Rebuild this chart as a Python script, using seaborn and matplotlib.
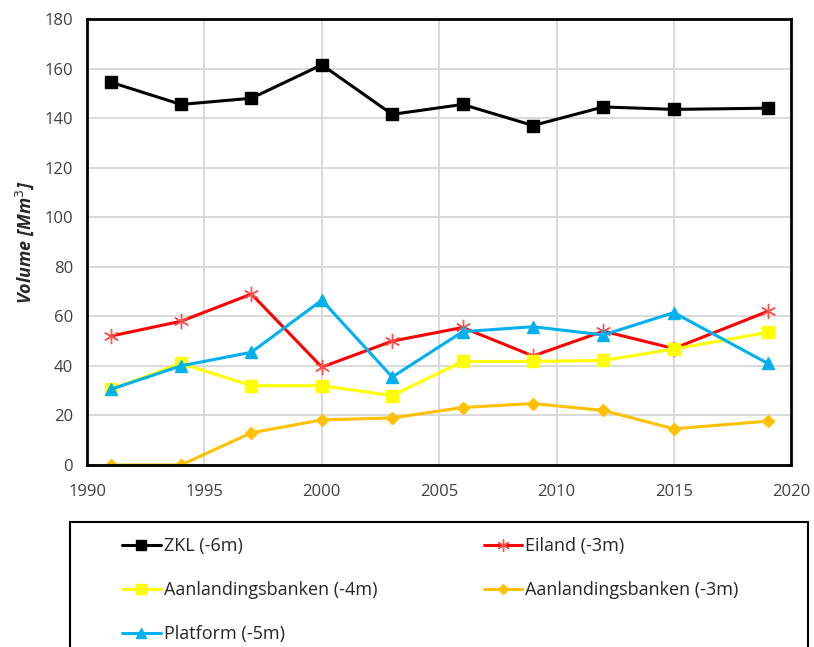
import pandas as pd
import matplotlib.pyplot as plt
import seaborn as sns
from matplotlib.patches import Rectangle

# jaren en volumes (Mm3)
years = [1991, 1994, 1997, 2000, 2003, 2006, 2009, 2012, 2015, 2019]
zkl = [154.5, 145.5, 148.0, 161.5, 141.5, 145.5, 137.0, 144.5, 143.5, 144.0]
eiland = [52.0, 58.0, 69.0, 39.5, 50.0, 55.5, 44.0, 54.0, 47.0, 62.0]
aanl_4 = [30.5, 41.0, 32.0, 32.0, 28.0, 41.8, 41.8, 42.2, 46.8, 53.5]
aanl_3 = [0.0, 0.0, 13.0, 18.2, 19.0, 23.2, 24.8, 22.0, 14.6, 17.7]
platform = [30.5, 40.0, 45.5, 66.5, 35.5, 53.8, 55.8, 52.5, 61.5, 41.0]

series_names = ['ZKL (-6m)', 'Eiland (-3m)', 'Aanlandingsbanken (-4m)',
                'Aanlandingsbanken (-3m)', 'Platform (-5m)']
series_vals = [zkl, eiland, aanl_4, aanl_3, platform]

df = pd.DataFrame({'jaar': years * len(series_names),
                   'volume': [v for vals in series_vals for v in vals],
                   'reeks': [n for n in series_names for _ in years]})

sns.set_style('whitegrid')
plt.rcParams['font.family'] = ['Open Sans', 'DejaVu Sans']

stijl = {
    'ZKL (-6m)': dict(color='black', marker='s', markersize=9, mec='black'),
    'Eiland (-3m)': dict(color='#ff0000', marker=(6, 2, 0), markersize=11, mec='#ff5050', mew=1.0),
    'Aanlandingsbanken (-4m)': dict(color='#ffff00', marker='s', markersize=9, mec='#ffff00'),
    'Aanlandingsbanken (-3m)': dict(color='#ffc000', marker='D', markersize=6, mec='#ffc000'),
    'Platform (-5m)': dict(color='#00b0f0', marker='^', markersize=9, mec='#00b0f0'),
}

fig = plt.figure(figsize=(8.14, 6.47), dpi=100)
ax = fig.add_axes([0.107, 0.2813, 0.865, 0.6894])

handles = {}
for naam in series_names:
    s = stijl[naam]
    sub = df[df['reeks'] == naam]
    sns.lineplot(data=sub, x='jaar', y='volume', ax=ax, color=s['color'],
                 marker=s['marker'], markersize=s['markersize'],
                 markeredgecolor=s['mec'], markeredgewidth=s.get('mew', 1),
                 linewidth=2.2, label=naam)
    handles[naam] = ax.get_lines()[-1]

ax.set_xlim(1990, 2020)
ax.set_ylim(0, 180)
ax.set_xticks(range(1990, 2021, 5))
ax.set_yticks(range(0, 181, 20))
ax.grid(True, color='#d9d9d9', linewidth=1.4)
for sp in ax.spines.values():
    sp.set_color('black')
    sp.set_linewidth(2)
ax.tick_params(labelsize=12, colors='#404040', length=0)
ax.tick_params(axis='x', pad=14)
ax.tick_params(axis='y', pad=10)
ax.set_xlabel('')
ax.set_ylabel('Volume [Mm$^3$]', fontsize=13, fontweight='bold', fontstyle='italic', labelpad=6)

ax.get_legend().remove()
# matplotlib vult kolom voor kolom -> volgorde zo dat de rijen kloppen
volgorde = ['ZKL (-6m)', 'Aanlandingsbanken (-4m)', 'Platform (-5m)',
            'Eiland (-3m)', 'Aanlandingsbanken (-3m)']
leg = fig.legend([handles[n] for n in volgorde], volgorde, loc='upper left', ncol=2,
                 bbox_to_anchor=(122 / 814, 1 - 537 / 647), frameon=False,
                 prop={'size': 13}, handlelength=2.15, handletextpad=0.15,
                 labelspacing=1.45, columnspacing=5.9, borderpad=0, borderaxespad=0,
                 markerscale=0.8)

# kader om de legenda, loopt door onder de rand
fig.patches.append(Rectangle((70 / 814, -0.05), 738 / 814, 0.05 + (647 - 522) / 647,
                             transform=fig.transFigure, fill=False,
                             edgecolor='black', linewidth=1.5))

fig.savefig('out.png', dpi=100)
